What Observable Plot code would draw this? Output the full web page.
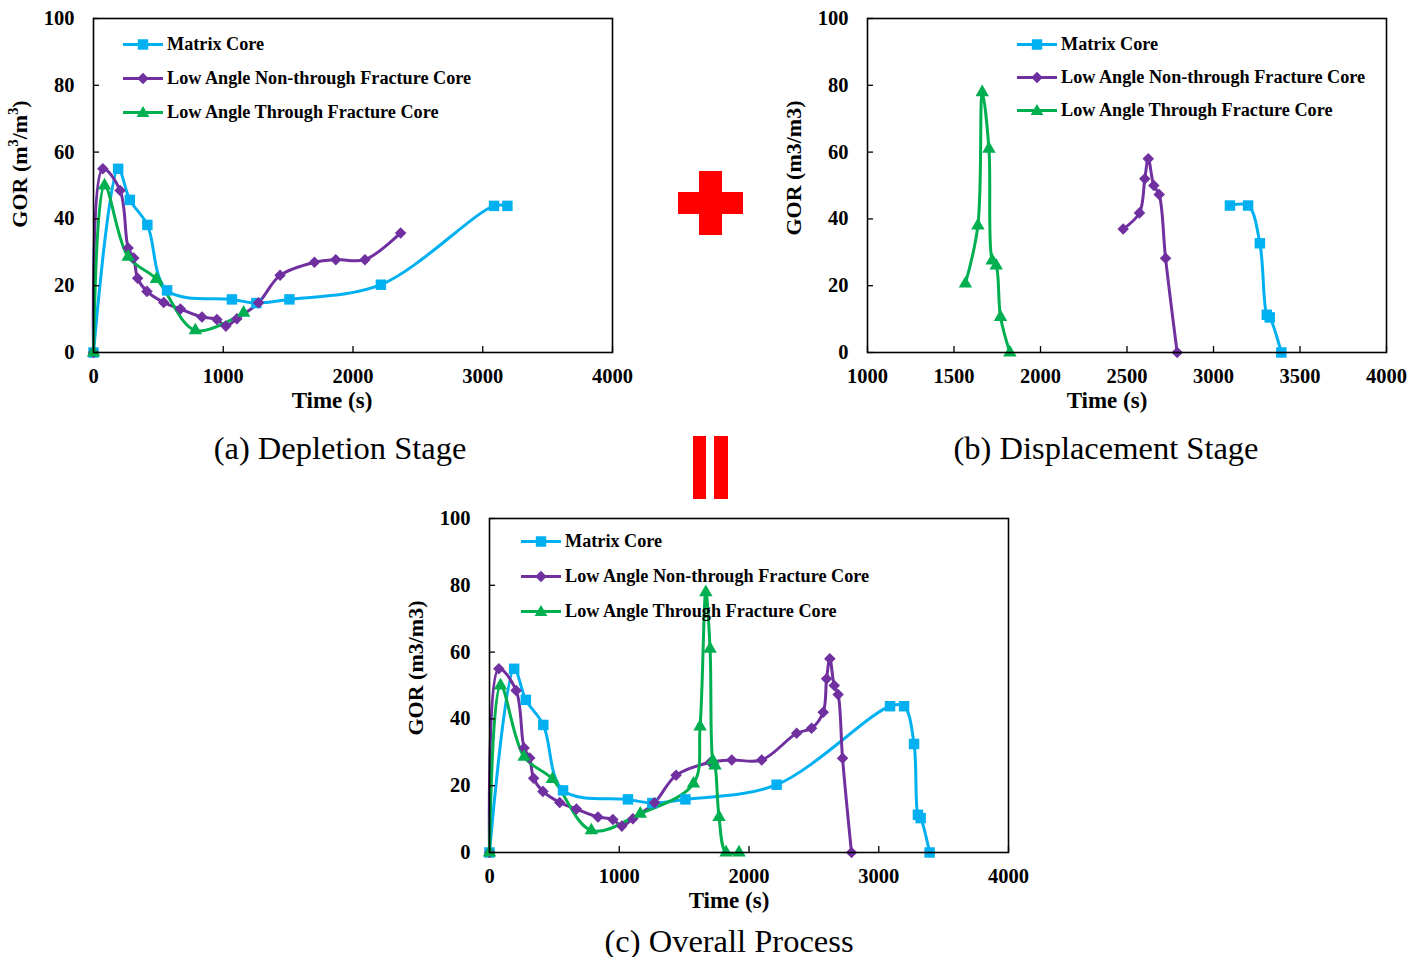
<!DOCTYPE html>
<html>
<head>
<meta charset="utf-8">
<script src="https://cdn.jsdelivr.net/npm/d3@7"></script>
<script src="https://cdn.jsdelivr.net/npm/@observablehq/plot@0.6"></script>
<style>
  body { margin: 0; background: #fff; }
  #root { position: relative; width: 1424px; height: 957px; overflow: hidden; background: #fff; font-family: "Liberation Serif", "Times New Roman", serif; }
  .abs { position: absolute; }
  .ytitle { position: absolute; font-weight: bold; font-size: 22px; white-space: nowrap; transform: translate(-50%, -50%) rotate(-90deg); }
  .xtitle { position: absolute; font-weight: bold; font-size: 23px; white-space: nowrap; transform: translate(-50%, -50%); }
  .caption { position: absolute; font-size: 32.5px; white-space: nowrap; transform: translate(-50%, -50%); }
  .legend { position: absolute; font-weight: bold; font-size: 18.2px; }
  .legend .row { position: absolute; left: 0; display: flex; align-items: center; white-space: nowrap; transform: translateY(-50%); }
  .red { position: absolute; background: #ff0000; }
</style>
</head>
<body>
<div id="root"></div>
<script>
// ---------------- Data ----------------
const seriesNames = ["Matrix Core", "Low Angle Non-through Fracture Core", "Low Angle Through Fracture Core"];
const seriesColors = ["#00b0f0", "#7030a0", "#00b050"];
const yTicks = [0, 20, 40, 60, 80, 100];
const xTicksA = [0, 1000, 2000, 3000, 4000];
const xTicksB = [1000, 1500, 2000, 2500, 3000, 3500, 4000];
const xTicksC = [0, 1000, 2000, 3000, 4000];

// (a) Depletion stage
const matrixA_t = [0, 190, 280, 415, 567, 1067, 1255, 1510, 2215, 3087, 3190];
const matrixA_g = [0, 55, 45.7, 38.2, 18.6, 15.9, 14.8, 15.9, 20.3, 43.9, 43.9];
const nonThroughA_t = [0, 72, 205, 267, 310, 340, 412, 541, 670, 836, 951, 1020, 1105, 1272, 1438, 1703, 1867, 2092, 2367];
const nonThroughA_g = [0, 55, 48.5, 31.3, 28.3, 22.2, 18.3, 15, 13, 10.6, 9.9, 7.9, 10.1, 14.9, 23.1, 27, 27.8, 27.8, 35.8];
const throughA_t = [0, 85, 267, 485, 785, 1157];
const throughA_g = [0, 50, 28.6, 22, 6.6, 11.9];

// (b) Displacement stage
const matrixB_t = [3095, 3200, 3268, 3308, 3325, 3392];
const matrixB_g = [44, 44, 32.7, 11.3, 10.5, 0];
const nonThroughB_t = [2478, 2572, 2603, 2623, 2655, 2686, 2723, 2790];
const nonThroughB_g = [37, 41.8, 52, 58, 50, 47.3, 28.2, 0];
const throughB_t = [1566, 1638, 1663, 1702, 1721, 1744, 1769, 1823];
const throughB_g = [20.6, 38, 77.9, 61, 27.5, 26, 10.6, 0];

// (c) Overall process
const matrixC_t = [0, 190, 280, 415, 567, 1067, 1255, 1510, 2213, 3087, 3195, 3272, 3302, 3323, 3392];
const matrixC_g = [0, 55, 45.7, 38.2, 18.6, 15.9, 14.8, 15.9, 20.3, 43.8, 43.8, 32.5, 11.3, 10.3, 0];
const nonThroughC_t = [0, 72, 205, 267, 310, 340, 412, 541, 670, 836, 951, 1020, 1105, 1272, 1438, 1703, 1867, 2098, 2367, 2482, 2572, 2598, 2623, 2657, 2687, 2721, 2790];
const nonThroughC_g = [0, 55, 48.5, 31.3, 28.3, 22.2, 18.3, 15, 13, 10.6, 9.9, 7.9, 10.1, 14.9, 23.1, 27, 27.7, 27.7, 35.7, 37.2, 42, 52, 58, 50, 47.3, 28.2, 0];
const throughC_t = [0, 85, 267, 485, 785, 1162, 1572, 1623, 1667, 1700, 1721, 1738, 1769, 1823, 1923];
const throughC_g = [0, 50, 28.6, 22, 6.6, 11.6, 20.6, 37.7, 77.9, 61, 27.5, 26, 10.6, 0, 0];

// ---------------- Helpers ----------------
const diamondSym = {
  draw(ctx, size) {
    const h = Math.sqrt(size / 2);
    ctx.moveTo(0, -h); ctx.lineTo(h, 0); ctx.lineTo(0, h); ctx.lineTo(-h, 0); ctx.closePath();
  }
};
const symbols = ["square", diamondSym, "triangle"];
const radii = [5.9, 4.6, 5.0];

function rows(ts, gs) { return ts.map((t, i) => ({t, g: gs[i]})); }

const W = 640, H = 400, ML = 93, MR = 28, MT = 18, MB = 48;
const FW = W - ML - MR, FH = H - MT - MB;

function panel(series, xDomain, xTicks) {
  const marks = [];
  series.forEach((data, i) => {
    marks.push(Plot.line(data, {x: "t", y: "g", stroke: seriesColors[i], strokeWidth: 3, curve: "catmull-rom"}));
  });
  series.forEach((data, i) => {
    marks.push(Plot.dot(data, {x: "t", y: "g", fill: seriesColors[i], stroke: "none", symbol: symbols[i], r: radii[i]}));
  });
  marks.push(Plot.tickX(xTicks, {x: d => d, stroke: "black", strokeWidth: 1.3, insetTop: FH - 6}));
  marks.push(Plot.tickY(yTicks, {y: d => d, stroke: "black", strokeWidth: 1.3, insetRight: FW - 6}));
  marks.push(Plot.frame({stroke: "black", strokeWidth: 1.6}));
  marks.push(Plot.axisX(xTicks, {tickSize: 0, tickPadding: 16, label: null, fontWeight: "bold", tickFormat: d => String(d)}));
  marks.push(Plot.axisY(yTicks, {tickSize: 0, tickPadding: 19, label: null, fontWeight: "bold", tickFormat: d => String(d)}));
  return Plot.plot({
    width: W, height: H,
    marginLeft: ML, marginRight: MR, marginTop: MT, marginBottom: MB,
    x: {domain: xDomain},
    y: {domain: [0, 100]},
    style: {fontFamily: "Liberation Serif, Times New Roman, serif", fontSize: "20.5px", color: "black", background: "transparent", overflow: "visible"},
    marks
  });
}

const root = document.getElementById("root");
function place(el, left, top) {
  const d = document.createElement("div");
  d.className = "abs"; d.style.left = left + "px"; d.style.top = top + "px";
  d.appendChild(el); root.appendChild(d); return d;
}
function textDiv(cls, txt, x, y) {
  const d = document.createElement("div");
  d.className = cls; d.innerHTML = txt; d.style.left = x + "px"; d.style.top = y + "px";
  root.appendChild(d);
}
function swatch(i) {
  const ns = "http://www.w3.org/2000/svg";
  const svg = document.createElementNS(ns, "svg");
  svg.setAttribute("width", 44); svg.setAttribute("height", 16);
  const ln = document.createElementNS(ns, "line");
  ln.setAttribute("x1", 0); ln.setAttribute("x2", 40); ln.setAttribute("y1", 8); ln.setAttribute("y2", 8);
  ln.setAttribute("stroke", seriesColors[i]); ln.setAttribute("stroke-width", 3);
  svg.appendChild(ln);
  const p = document.createElementNS(ns, "path");
  let d;
  if (i === 0) d = "M14.8,2.8h10.4v10.4h-10.4z";
  else if (i === 1) d = "M20,2.2L25.8,8L20,13.8L14.2,8z";
  else d = "M20,1.6L26.4,12.6L13.6,12.6z";
  p.setAttribute("d", d); p.setAttribute("fill", seriesColors[i]);
  svg.appendChild(p);
  return svg;
}
function legend(left, tops) {
  const lg = document.createElement("div");
  lg.className = "legend"; lg.style.left = left + "px"; lg.style.top = "0px";
  seriesNames.forEach((name, i) => {
    const r = document.createElement("div");
    r.className = "row"; r.style.top = tops[i] + "px";
    r.appendChild(swatch(i));
    const s = document.createElement("span"); s.textContent = name;
    r.appendChild(s);
    lg.appendChild(r);
  });
  root.appendChild(lg);
}

// ---------------- Panels ----------------
const pa = panel([rows(matrixA_t, matrixA_g), rows(nonThroughA_t, nonThroughA_g), rows(throughA_t, throughA_g)], [0, 4000], xTicksA);
place(pa, 0, 0);
const pb = panel([rows(matrixB_t, matrixB_g), rows(nonThroughB_t, nonThroughB_g), rows(throughB_t, throughB_g)], [1000, 4000], xTicksB);
place(pb, 774, 0);
const pc = panel([rows(matrixC_t, matrixC_g), rows(nonThroughC_t, nonThroughC_g), rows(throughC_t, throughC_g)], [0, 4000], xTicksC);
place(pc, 396, 500);

legend(123, [44, 78, 112]);
legend(1017, [44, 77, 110]);
legend(521, [541, 576, 611]);

textDiv("ytitle", "GOR (m<sup style='font-size:0.65em'>3</sup>/m<sup style='font-size:0.65em'>3</sup>)", 19, 164);
textDiv("ytitle", "GOR (m3/m3)", 794, 168);
textDiv("ytitle", "GOR (m3/m3)", 416, 668);
textDiv("xtitle", "Time (s)", 332, 401);
textDiv("xtitle", "Time (s)", 1107, 401);
textDiv("xtitle", "Time (s)", 729, 901);
textDiv("caption", "(a) Depletion Stage", 340, 448);
textDiv("caption", "(b) Displacement Stage", 1106, 448);
textDiv("caption", "(c) Overall Process", 729, 941);

// red plus and equals signs
function red(l, t, w, h) {
  const d = document.createElement("div"); d.className = "red";
  d.style.left = l + "px"; d.style.top = t + "px"; d.style.width = w + "px"; d.style.height = h + "px";
  root.appendChild(d);
}
red(699, 171, 23, 64);
red(678, 192, 65, 22);
red(693, 436, 13, 63);
red(714, 436, 14, 63);
</script>
</body>
</html>
